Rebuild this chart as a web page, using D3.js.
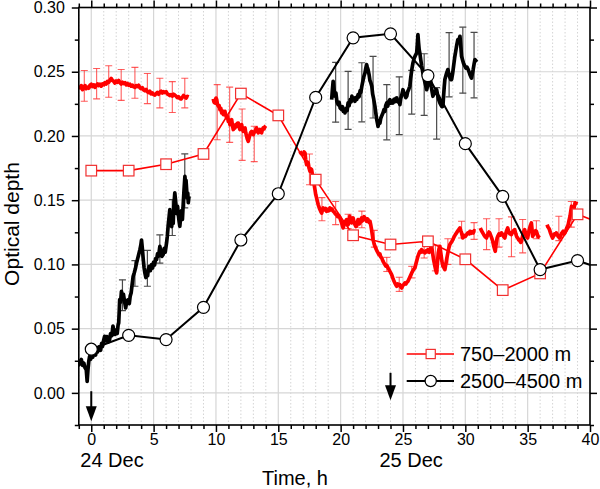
<!DOCTYPE html>
<html><head><meta charset="utf-8">
<script src="https://cdn.jsdelivr.net/npm/d3@7"></script>
<style>body{margin:0;background:#fff}svg{display:block}text{font-family:"Liberation Sans",Arial,sans-serif}</style>
</head><body>
<svg id="c" width="600" height="489"></svg>
<script>
// ---- data ----
const xTicks = [0,5,10,15,20,25,30,35,40];
const yTicks = [0.00,0.05,0.10,0.15,0.20,0.25,0.30];
const dayLabels = [{x:0,text:"24 Dec"},{x:24,text:"25 Dec"}];
const arrows = [{x:0,y0:0.0013,y1:-0.022},{x:24,y0:0.0156,y1:-0.0058}];
const legendNames = ["750\u20132000 m","2500\u20134500 m"];

const redMarkX = [0,3,6,9,12,15,18,21,24,27,30,33,36,39,42];
const redMarkY = [0.173,0.173,0.178,0.186,0.233,0.216,0.166,0.1227,0.1155,0.118,0.104,0.080,0.093,0.139,0.128];
const blackMarkX = [0,3,6,9,12,15,18,21,24,27,30,33,36,39,42];
const blackMarkY = [0.034,0.0448,0.0415,0.0666,0.119,0.155,0.230,0.2764,0.2795,0.247,0.194,0.153,0.096,0.103,0.093];

const redNoiseA = [[-1.0,0.2385],[-0.9,0.2375],[-0.8,0.2392],[-0.7,0.236],[-0.6,0.2378],[-0.5,0.2392],[-0.4,0.2368],[-0.3,0.238],[-0.2,0.2372],[-0.1,0.2395],[0.0,0.2402],[0.1,0.2385],[0.2,0.2398],[0.3,0.2378],[0.4,0.2395],[0.5,0.2405],[0.6,0.2392],[0.7,0.2402],[0.8,0.2388],[0.9,0.2405],[1.0,0.2398],[1.1,0.2415],[1.2,0.2405],[1.3,0.2425],[1.4,0.2418],[1.5,0.2435],[1.6,0.2448],[1.7,0.2432],[1.8,0.2425],[1.9,0.2412],[2.0,0.2428],[2.1,0.2418],[2.2,0.2432],[2.3,0.2415],[2.4,0.2405],[2.5,0.2418],[2.6,0.2408],[2.7,0.2415],[2.8,0.2398],[2.9,0.2408],[3.0,0.2395],[3.1,0.2402],[3.2,0.2388],[3.3,0.2395],[3.4,0.2382],[3.5,0.2378],[3.6,0.2392],[3.7,0.2385],[3.8,0.2395],[3.9,0.2375],[4.0,0.2368],[4.1,0.2375],[4.2,0.2358],[4.3,0.2352],[4.4,0.2362],[4.5,0.2345],[4.6,0.2338],[4.7,0.2348],[4.8,0.2328],[4.9,0.2335],[5.0,0.2322],[5.1,0.2318],[5.2,0.233],[5.3,0.2338],[5.4,0.2325],[5.5,0.234],[5.6,0.2348],[5.7,0.2335],[5.8,0.2345],[5.9,0.2338],[6.0,0.2345],[6.1,0.2328],[6.2,0.2322],[6.3,0.2315],[6.4,0.2322],[6.5,0.231],[6.6,0.2325],[6.7,0.2318],[6.8,0.231],[6.9,0.2298],[7.0,0.2305],[7.1,0.2292],[7.2,0.2288],[7.3,0.23],[7.4,0.2315],[7.5,0.2305],[7.6,0.2295],[7.7,0.2308],[7.8,0.2302]];
const redNoiseB = [[9.78,0.2289],[9.85,0.2262],[9.92,0.2257],[10.0,0.2295],[10.06,0.2283],[10.12,0.2245],[10.19,0.2231],[10.25,0.2238],[10.32,0.2205],[10.39,0.2215],[10.46,0.218],[10.52,0.2195],[10.59,0.2166],[10.66,0.2178],[10.72,0.2192],[10.79,0.2158],[10.86,0.2141],[10.92,0.2152],[10.99,0.2114],[11.05,0.2125],[11.12,0.2088],[11.19,0.2118],[11.26,0.2127],[11.32,0.2085],[11.39,0.205],[11.46,0.2078],[11.52,0.2062],[11.59,0.2088],[11.66,0.2075],[11.72,0.2098],[11.79,0.21],[11.86,0.207],[11.92,0.205],[11.99,0.2072],[12.06,0.2088],[12.12,0.2055],[12.19,0.2036],[12.26,0.2058],[12.33,0.2063],[12.39,0.2025],[12.46,0.1997],[12.52,0.1975],[12.59,0.1958],[12.66,0.1985],[12.73,0.201],[12.79,0.2028],[12.86,0.2036],[12.92,0.2018],[12.99,0.201],[13.06,0.2025],[13.13,0.2036],[13.19,0.205],[13.26,0.2063],[13.33,0.2038],[13.39,0.2024],[13.46,0.2042],[13.53,0.205],[13.59,0.2032],[13.66,0.2024],[13.72,0.2048],[13.79,0.2063],[13.86,0.2055],[13.93,0.2072],[14.0,0.208]];
const redNoiseC1 = [[16.73,0.188],[16.85,0.1862],[17.0,0.1855],[17.07,0.1875],[17.14,0.1868],[17.2,0.1815],[17.27,0.1777],[17.33,0.1798],[17.4,0.179],[17.47,0.1748],[17.54,0.1725],[17.6,0.1745],[17.67,0.1738],[17.74,0.1695],[17.8,0.166],[17.87,0.1625],[17.94,0.1583],[18.0,0.1545],[18.07,0.1518],[18.14,0.149],[18.2,0.1466],[18.27,0.1445],[18.34,0.1427],[18.41,0.1412],[18.48,0.14],[18.54,0.1425],[18.6,0.144],[18.7,0.1425],[18.8,0.1435],[18.88,0.1414],[18.96,0.1428],[19.05,0.1418],[19.14,0.144],[19.22,0.1425],[19.3,0.1432],[19.4,0.1414],[19.5,0.1405],[19.58,0.1392],[19.68,0.1388],[19.76,0.1372],[19.85,0.138],[19.94,0.1362],[20.0,0.1345],[20.08,0.1323],[20.14,0.1302],[20.2,0.1284],[20.27,0.1305],[20.34,0.1323],[20.41,0.1338],[20.48,0.1349],[20.54,0.1322],[20.6,0.131],[20.67,0.1345],[20.74,0.1375],[20.81,0.1342],[20.88,0.1323],[20.94,0.1348],[21.0,0.1362],[21.08,0.1328],[21.15,0.131],[21.22,0.1295],[21.28,0.1297],[21.34,0.1328],[21.4,0.1349],[21.48,0.1315],[21.55,0.1323],[21.62,0.1348],[21.68,0.1362],[21.74,0.1338],[21.8,0.1349],[21.88,0.1372],[21.95,0.1362],[22.02,0.1345],[22.08,0.1336],[22.14,0.1355],[22.2,0.1349],[22.28,0.1328],[22.35,0.1336],[22.42,0.1305],[22.48,0.1271],[22.54,0.1232],[22.6,0.1193],[22.68,0.1162],[22.75,0.1141],[22.82,0.1125],[22.9,0.1108],[23.0,0.109],[23.08,0.1075],[23.15,0.1082],[23.22,0.1058],[23.29,0.1051],[23.36,0.1035],[23.44,0.1018],[23.55,0.0999],[23.62,0.0988],[23.7,0.0992],[23.8,0.0973],[23.88,0.096],[23.96,0.0945],[24.09,0.0921],[24.18,0.0895],[24.26,0.0875],[24.35,0.0856],[24.42,0.0842],[24.5,0.083],[24.58,0.0848],[24.66,0.0838],[24.75,0.0843],[24.82,0.0825],[24.9,0.0817],[24.98,0.0835],[25.08,0.0845],[25.16,0.0856],[25.24,0.0848],[25.32,0.0862],[25.4,0.0869],[25.5,0.089],[25.6,0.0912],[25.7,0.0934],[25.8,0.0952],[25.88,0.0965],[25.96,0.0973],[26.04,0.1005],[26.12,0.1035],[26.2,0.1063],[26.28,0.1085],[26.36,0.1102],[26.43,0.1095],[26.5,0.1115],[26.58,0.1098],[26.66,0.1102],[26.76,0.109],[26.85,0.1105],[26.93,0.1098],[27.0,0.1115],[27.1,0.1095],[27.2,0.1125],[27.3,0.1141],[27.38,0.1085],[27.46,0.1035],[27.56,0.0986],[27.63,0.0955],[27.7,0.0934],[27.76,0.1005],[27.83,0.109],[27.9,0.1125],[27.96,0.1141],[28.04,0.1085],[28.12,0.1025],[28.2,0.0986],[28.28,0.0975],[28.36,0.096],[28.44,0.1005],[28.52,0.105],[28.6,0.109],[28.68,0.1128],[28.76,0.1155],[28.88,0.1172],[29.0,0.1193],[29.1,0.1215],[29.2,0.1232],[29.3,0.1245],[29.4,0.1262],[29.5,0.1275],[29.57,0.1284],[29.64,0.1262],[29.7,0.1245],[29.75,0.1225],[29.8,0.1206],[29.9,0.1225],[30.0,0.1218],[30.1,0.1232],[30.2,0.1245],[30.3,0.1238],[30.37,0.1258],[30.45,0.1242],[30.55,0.1255],[30.63,0.1245],[30.72,0.1262],[30.8,0.1258]];
const redNoiseC2 = [[31.2,0.1284],[31.3,0.1262],[31.4,0.1245],[31.5,0.1228],[31.6,0.1215],[31.7,0.1206],[31.8,0.1232],[31.9,0.1252],[31.96,0.1245],[32.05,0.1222],[32.12,0.1205],[32.2,0.118],[32.3,0.1135],[32.4,0.1102],[32.48,0.1165],[32.55,0.1205],[32.6,0.1219],[32.7,0.1238],[32.8,0.1228],[32.9,0.1245],[33.0,0.1232],[33.08,0.1215],[33.17,0.1206],[33.25,0.1242],[33.32,0.1265],[33.4,0.1284],[33.48,0.1255],[33.56,0.1238],[33.64,0.1245],[33.7,0.1232],[33.78,0.1252],[33.86,0.1262],[33.96,0.1271],[34.05,0.1238],[34.12,0.1215],[34.2,0.1206],[34.28,0.1192],[34.36,0.1185],[34.44,0.1172],[34.5,0.118],[34.58,0.1215],[34.66,0.1248],[34.76,0.1271],[34.84,0.1238],[34.92,0.1215],[35.0,0.1206],[35.1,0.1258],[35.2,0.1298],[35.3,0.1323],[35.36,0.1265],[35.4,0.1219],[35.48,0.1232],[35.56,0.1248],[35.64,0.1262],[35.7,0.1258],[35.78,0.1232],[35.86,0.1215],[35.96,0.1206]];
const redNoiseC3 = [[36.56,0.131],[36.62,0.1292],[36.68,0.1285],[36.75,0.1271],[36.82,0.1248],[36.9,0.1228],[37.0,0.1206],[37.08,0.1222],[37.16,0.1238],[37.24,0.1232],[37.3,0.1245],[37.38,0.1232],[37.46,0.1215],[37.52,0.1212],[37.58,0.1206],[37.65,0.1225],[37.72,0.1242],[37.8,0.1252],[37.85,0.1258],[37.92,0.1238],[37.98,0.1245],[38.06,0.1262],[38.14,0.1285],[38.2,0.1298],[38.25,0.131],[38.32,0.1342],[38.4,0.1375],[38.46,0.1415],[38.52,0.1453],[38.58,0.1432],[38.66,0.140],[38.72,0.1438],[38.8,0.148],[38.86,0.1472],[38.92,0.149]];
const blackNoiseA = [[-1.07,0.0234],[-1.0,0.0218],[-0.9,0.0245],[-0.8,0.026],[-0.7,0.0215],[-0.6,0.0232],[-0.5,0.0195],[-0.4,0.018],[-0.33,0.009],[-0.27,0.0175],[-0.2,0.0245],[-0.13,0.0285],[-0.05,0.0262],[0.05,0.0305],[0.12,0.0278],[0.2,0.0318],[0.27,0.032],[0.35,0.0295],[0.42,0.034],[0.5,0.0318],[0.58,0.0355],[0.67,0.036],[0.75,0.0332],[0.83,0.0385],[0.9,0.0362],[1.0,0.0412],[1.07,0.044],[1.15,0.0405],[1.25,0.0438],[1.35,0.0395],[1.47,0.0415],[1.55,0.0462],[1.65,0.0445],[1.74,0.052],[1.82,0.0478],[1.9,0.0455],[2.0,0.049],[2.08,0.0462],[2.15,0.0528],[2.2,0.0545],[2.25,0.065],[2.28,0.0726],[2.35,0.0705],[2.42,0.079],[2.5,0.0742],[2.58,0.0768],[2.69,0.070],[2.76,0.0662],[2.85,0.0718],[2.96,0.0726],[3.05,0.0695],[3.12,0.0752],[3.2,0.078],[3.28,0.0845],[3.36,0.0908],[3.45,0.0935],[3.54,0.0968],[3.63,0.101],[3.72,0.1045],[3.8,0.1075],[3.9,0.1115],[3.97,0.1148],[4.03,0.119],[4.1,0.112],[4.17,0.1038],[4.24,0.0972],[4.3,0.0934],[4.38,0.0898],[4.45,0.0935],[4.52,0.0912],[4.57,0.096],[4.65,0.0985],[4.74,0.0952],[4.83,0.0999],[4.92,0.0972],[5.0,0.1018],[5.08,0.0995],[5.16,0.1045],[5.24,0.1038],[5.32,0.1085],[5.4,0.1065],[5.5,0.114],[5.58,0.1098],[5.66,0.1062],[5.77,0.1077],[5.85,0.1125],[5.93,0.1095],[6.04,0.1168],[6.1,0.122],[6.17,0.1305],[6.24,0.1368],[6.3,0.1427],[6.38,0.1352],[6.45,0.1295],[6.52,0.1368],[6.57,0.132],[6.62,0.1452],[6.7,0.1557],[6.78,0.1478],[6.86,0.1395],[6.92,0.1452],[6.97,0.140],[7.04,0.1338],[7.1,0.1297],[7.17,0.1365],[7.24,0.1418],[7.31,0.135],[7.38,0.148],[7.44,0.158],[7.51,0.1686],[7.56,0.1625],[7.6,0.1655],[7.65,0.158],[7.7,0.1515],[7.74,0.1555],[7.78,0.148],[7.84,0.153]];
const blackNoiseB = [[19.28,0.2283],[19.34,0.236],[19.4,0.2426],[19.47,0.2365],[19.54,0.231],[19.62,0.2335],[19.7,0.2268],[19.8,0.2244],[19.88,0.2262],[19.96,0.2218],[20.08,0.2205],[20.15,0.2228],[20.22,0.2192],[20.3,0.2205],[20.35,0.218],[20.45,0.2215],[20.52,0.2198],[20.6,0.2258],[20.68,0.2235],[20.76,0.2282],[20.84,0.2265],[20.9,0.231],[20.98,0.2282],[21.06,0.2295],[21.15,0.227],[21.22,0.2298],[21.3,0.2285],[21.4,0.2322],[21.48,0.2305],[21.56,0.2352],[21.62,0.2338],[21.7,0.2387],[21.78,0.2425],[21.86,0.2462],[21.95,0.249],[22.02,0.2528],[22.08,0.2556],[22.14,0.2535],[22.2,0.2517],[22.28,0.2478],[22.35,0.2432],[22.42,0.2415],[22.5,0.2387],[22.57,0.2325],[22.65,0.2288],[22.75,0.2231],[22.82,0.2178],[22.9,0.2125],[22.96,0.2095],[23.0,0.2075],[23.08,0.2112],[23.15,0.210],[23.22,0.2138],[23.3,0.2158],[23.4,0.218],[23.48,0.2205],[23.55,0.2192],[23.62,0.2238],[23.7,0.2257],[23.78,0.2232],[23.86,0.2268],[23.95,0.2283],[24.02,0.2255],[24.1,0.2272],[24.2,0.2257],[24.28,0.2285],[24.36,0.2268],[24.42,0.2292],[24.5,0.2296],[24.58,0.2265],[24.66,0.2278],[24.75,0.2244],[24.82,0.2292],[24.9,0.2318],[25.0,0.236],[25.08,0.2335],[25.16,0.2322],[25.22,0.2298],[25.3,0.2309],[25.38,0.2345],[25.46,0.2362],[25.55,0.2387],[25.62,0.2452],[25.7,0.2512],[25.8,0.2569],[25.9,0.2605],[26.0,0.2628],[26.1,0.2647],[26.15,0.2715],[26.2,0.2789],[26.25,0.2725],[26.3,0.2672],[26.35,0.2647],[26.42,0.2598],[26.5,0.2545],[26.6,0.249],[26.68,0.2452],[26.76,0.2418],[26.84,0.2385],[26.9,0.236],[26.98,0.2392],[27.05,0.2415],[27.12,0.2428],[27.2,0.2439],[27.27,0.2385],[27.34,0.2342],[27.4,0.2309],[27.48,0.2335],[27.55,0.2348],[27.62,0.2332],[27.7,0.236],[27.78,0.2318],[27.86,0.2285],[27.96,0.2257],[28.04,0.2242],[28.12,0.2228],[28.2,0.2231],[28.26,0.2315],[28.31,0.2385],[28.36,0.2439],[28.44,0.2468],[28.52,0.2495],[28.6,0.2517],[28.68,0.2485],[28.76,0.2455],[28.84,0.2438],[28.9,0.2439],[28.98,0.2485],[29.06,0.2545],[29.16,0.262],[29.24,0.2665],[29.32,0.2712],[29.4,0.275],[29.48,0.2742],[29.57,0.2776],[29.64,0.2695],[29.7,0.262],[29.78,0.2592],[29.86,0.2565],[29.97,0.2543],[30.05,0.2528],[30.14,0.2535],[30.23,0.2517],[30.3,0.2498],[30.38,0.2475],[30.44,0.2462],[30.5,0.245],[30.56,0.2482],[30.63,0.2517],[30.7,0.2558],[30.77,0.2595],[30.84,0.2585],[30.9,0.2598]];

// error bars: [x, centre, half-width]
const redErr = [[-0.56,0.239,0.012],[0.43,0.2407,0.0118],[1.4,0.2424,0.0123],[2.4,0.2397,0.012],[3.5,0.2414,0.012],[4.5,0.2369,0.0117],[5.5,0.2334,0.0115],[6.5,0.2303,0.012],[7.5,0.2334,0.0115],
  [10.1,0.2185,0.0215],[11.1,0.2165,0.0215],[12.1,0.201,0.020],[13.07,0.1938,0.0138],
  [17.5,0.174,0.012],[18.5,0.143,0.009],[19.6,0.140,0.009],[20.6,0.1335,0.0055],[21.7,0.135,0.0065],[22.7,0.120,0.0065],[23.7,0.100,0.0055],[24.7,0.0845,0.0055],[25.7,0.094,0.0045],[26.7,0.111,0.006],[27.6,0.105,0.01],[28.6,0.110,0.01],[29.7,0.1271,0.0065],[30.7,0.126,0.0065],[31.7,0.1235,0.012],[32.7,0.1245,0.011],[33.7,0.1215,0.0155],[34.6,0.122,0.013],[35.7,0.127,0.007],[37.5,0.128,0.0095],[38.5,0.139,0.01]];
const blackErr = [[2.5,0.076,0.012],[3.5,0.093,0.010],[4.5,0.097,0.014],[5.5,0.112,0.011],[6.5,0.1365,0.014],[7.5,0.165,0.021],
  [19.6,0.234,0.0233],[20.6,0.2277,0.0226],[21.7,0.234,0.023],[22.6,0.238,0.024],[23.7,0.2185,0.0215],[24.7,0.2235,0.0225],[25.7,0.234,0.017],[26.7,0.240,0.024],[27.7,0.2176,0.020],[28.7,0.2555,0.025],[29.8,0.259,0.0257],[30.7,0.2552,0.0255]];

// ---- drawing ----
const svg = d3.select("#c");
const PL=78.8,PR=590,PT=7.5,PB=425;
const xs = d3.scaleLinear().domain([-1,40]).range([PL,PR]);
const ys = d3.scaleLinear().domain([-0.025,0.30]).range([PB,PT]);
const RED="#ff0000", BLK="#000000";
const FONT="Liberation Sans, Arial, sans-serif";

svg.append("defs").append("clipPath").attr("id","clip").append("rect")
  .attr("x",PL).attr("y",PT).attr("width",PR-PL).attr("height",PB-PT);

const xMinor = d3.range(-1,41).filter(v=>v%5!==0);
const yMinor = [-0.025,0.025,0.075,0.125,0.175,0.225,0.275];

// grid
const grid = svg.append("g");
grid.selectAll(".minor").data(xMinor).join("line")
  .attr("x1",d=>xs(d)).attr("x2",d=>xs(d)).attr("y1",PT).attr("y2",PB)
  .attr("stroke","#d4d4d4").attr("stroke-width",1).attr("stroke-dasharray","1.5,2");
grid.selectAll(".vmaj").data(xTicks).join("line")
  .attr("x1",d=>xs(d)).attr("x2",d=>xs(d)).attr("y1",PT).attr("y2",PB)
  .attr("stroke","#d6d6d6").attr("stroke-width",1.2);
grid.selectAll(".hmaj").data(yTicks).join("line")
  .attr("x1",PL).attr("x2",PR).attr("y1",d=>ys(d)).attr("y2",d=>ys(d))
  .attr("stroke","#d6d6d6").attr("stroke-width",1.2);

const plot = svg.append("g").attr("clip-path","url(#clip)");
const line = d3.line().x(d=>xs(d[0])).y(d=>ys(d[1]));

function errbars(data,color,w){
  const eg = plot.append("g").attr("stroke",color).attr("stroke-width",w).attr("fill","none");
  data.forEach(d=>{
    const x=xs(d[0]), y1=ys(d[1]+d[2]), y2=ys(d[1]-d[2]);
    eg.append("line").attr("x1",x).attr("x2",x).attr("y1",y1).attr("y2",y2);
    eg.append("line").attr("x1",x-3.5).attr("x2",x+3.5).attr("y1",y1).attr("y2",y1);
    eg.append("line").attr("x1",x-3.5).attr("x2",x+3.5).attr("y1",y2).attr("y2",y2);
  });
}
errbars(redErr,"rgba(255,40,40,0.75)",1.1);
errbars(blackErr,"#4a4a4a",1.2);

[redNoiseA,redNoiseB,redNoiseC1,redNoiseC2,redNoiseC3].forEach(s=>
  plot.append("path").datum(s).attr("d",line).attr("fill","none").attr("stroke",RED)
   .attr("stroke-width",3.7).attr("stroke-linejoin","round"));
[blackNoiseA,blackNoiseB].forEach(s=>
  plot.append("path").datum(s).attr("d",line).attr("fill","none").attr("stroke",BLK)
   .attr("stroke-width",3.7).attr("stroke-linejoin","round"));

// marker series
const redPts = redMarkX.map((x,i)=>[x,redMarkY[i]]);
const blkPts = blackMarkX.map((x,i)=>[x,blackMarkY[i]]);
plot.append("path").datum(redPts).attr("d",line).attr("fill","none").attr("stroke",RED).attr("stroke-width",1.6);
plot.selectAll(".sq").data(redPts).join("rect")
  .attr("x",d=>xs(d[0])-5.3).attr("y",d=>ys(d[1])-5.3).attr("width",10.6).attr("height",10.6)
  .attr("fill","#fff").attr("stroke","#f03030").attr("stroke-width",1.2);
plot.append("path").datum(blkPts).attr("d",line).attr("fill","none").attr("stroke",BLK).attr("stroke-width",2);
plot.selectAll(".ci").data(blkPts).join("circle")
  .attr("cx",d=>xs(d[0])).attr("cy",d=>ys(d[1])).attr("r",6)
  .attr("fill","#fff").attr("stroke",BLK).attr("stroke-width",1.2);

// arrows
arrows.forEach(a=>{
  const x=xs(a.x), y0=ys(a.y0), y1=ys(a.y1);
  svg.append("line").attr("x1",x).attr("x2",x).attr("y1",y0).attr("y2",y1-12).attr("stroke",BLK).attr("stroke-width",2);
  svg.append("path").attr("d",`M${x-5.5},${y1-15}L${x+5.5},${y1-15}L${x},${y1}Z`).attr("fill",BLK);
});

// axes
const axB = svg.append("g").attr("transform",`translate(0,${PB})`)
  .call(d3.axisBottom(xs).tickValues(xTicks).tickSize(7).tickSizeOuter(0).tickFormat(d3.format("d")));
svg.append("g").attr("transform",`translate(0,${PB})`)
  .call(d3.axisBottom(xs).tickValues(xMinor).tickSize(4).tickSizeOuter(0).tickFormat(""));
svg.append("g").attr("transform",`translate(0,${PT})`)
  .call(d3.axisTop(xs).tickValues(xTicks).tickSize(7).tickSizeOuter(0).tickFormat(""));
svg.append("g").attr("transform",`translate(0,${PT})`)
  .call(d3.axisTop(xs).tickValues(xMinor).tickSize(4).tickSizeOuter(0).tickFormat(""));
const axL = svg.append("g").attr("transform",`translate(${PL},0)`)
  .call(d3.axisLeft(ys).tickValues(yTicks).tickSize(7).tickSizeOuter(0).tickFormat(d3.format(".2f")));
svg.append("g").attr("transform",`translate(${PL},0)`)
  .call(d3.axisLeft(ys).tickValues(yMinor).tickSize(4).tickSizeOuter(0).tickFormat(""));
svg.append("g").attr("transform",`translate(${PR},0)`)
  .call(d3.axisRight(ys).tickValues(yTicks).tickSize(7).tickSizeOuter(0).tickFormat(""));
svg.append("g").attr("transform",`translate(${PR},0)`)
  .call(d3.axisRight(ys).tickValues(yMinor).tickSize(4).tickSizeOuter(0).tickFormat(""));
svg.selectAll(".domain").remove();
svg.selectAll(".tick line").attr("stroke",BLK).attr("stroke-width",1.5);
axB.selectAll("text").attr("font-size",16).attr("fill",BLK).attr("y",9).attr("dy","0.71em").attr("font-family",FONT);
axL.selectAll("text").attr("font-size",16).attr("fill",BLK).attr("x",-14).attr("font-family",FONT);
svg.append("rect").attr("x",PL).attr("y",PT).attr("width",PR-PL).attr("height",PB-PT)
  .attr("fill","none").attr("stroke",BLK).attr("stroke-width",1.6);

// labels
svg.selectAll(".day").data(dayLabels).join("text")
  .attr("x",d=>xs(d.x)-11).attr("y",467).attr("font-size",20).text(d=>d.text);
svg.append("text").attr("x",295).attr("y",485).attr("text-anchor","middle").attr("font-size",20).text("Time, h");
svg.append("text").attr("transform","translate(19,224) rotate(-90)").attr("text-anchor","middle")
  .attr("font-size",21).text("Optical depth");

// legend
const lg = svg.append("g");
const rows=[{y:354,color:RED,shape:"sq"},{y:381,color:BLK,shape:"ci"}];
rows.forEach((r,i)=>{
  lg.append("line").attr("x1",406.7).attr("x2",454).attr("y1",r.y).attr("y2",r.y)
    .attr("stroke",r.color).attr("stroke-width",i===0?1.6:2);
  if(r.shape==="sq") lg.append("rect").attr("x",430.7-4.6).attr("y",r.y-4.6).attr("width",9.2).attr("height",9.2)
    .attr("fill","#fff").attr("stroke","#f03030").attr("stroke-width",1.2);
  else lg.append("circle").attr("cx",430.7).attr("cy",r.y).attr("r",5.6).attr("fill","#fff").attr("stroke",BLK).attr("stroke-width",1.2);
  lg.append("text").attr("x",460).attr("y",r.y+7).attr("font-size",20).text(legendNames[i]);
});
</script>
</body></html>
